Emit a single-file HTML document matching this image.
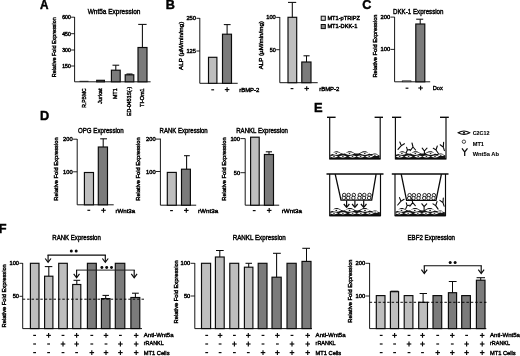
<!DOCTYPE html>
<html><head><meta charset="utf-8"><title>Figure</title>
<style>
html,body{margin:0;padding:0;background:#fff;}
body{width:520px;height:356px;overflow:hidden;font-family:"Liberation Sans",sans-serif;}
svg{display:block;filter:blur(0.3px);}
svg text{font-family:"Liberation Sans",sans-serif;}
</style></head><body>
<svg width="520" height="356" viewBox="0 0 520 356">
<rect width="520" height="356" fill="#fff"/>
<text x="40.0" y="8.7" font-size="12.1" text-anchor="start" font-weight="bold" fill="#000" stroke="#000" stroke-width="0.42" textLength="8.5" lengthAdjust="spacingAndGlyphs">A</text>
<text x="165.7" y="8.7" font-size="12.1" text-anchor="start" font-weight="bold" fill="#000" stroke="#000" stroke-width="0.42" textLength="9.1" lengthAdjust="spacingAndGlyphs">B</text>
<text x="362.3" y="9.0" font-size="12.1" text-anchor="start" font-weight="bold" fill="#000" stroke="#000" stroke-width="0.42" textLength="9.1" lengthAdjust="spacingAndGlyphs">C</text>
<text x="40.1" y="119.7" font-size="12.1" text-anchor="start" font-weight="bold" fill="#000" stroke="#000" stroke-width="0.42" textLength="9.2" lengthAdjust="spacingAndGlyphs">D</text>
<text x="313.9" y="111.9" font-size="12.1" text-anchor="start" font-weight="bold" fill="#000" stroke="#000" stroke-width="0.42" textLength="8.6" lengthAdjust="spacingAndGlyphs">E</text>
<text x="-1.3" y="233.0" font-size="12.1" text-anchor="start" font-weight="bold" fill="#000" stroke="#000" stroke-width="0.42" textLength="7.8" lengthAdjust="spacingAndGlyphs">F</text>
<text x="87.7" y="14.0" font-size="7.2" text-anchor="start" font-weight="normal" fill="#000" stroke="#000" stroke-width="0.42" textLength="52.7" lengthAdjust="spacingAndGlyphs">Wnt5a Expression</text>
<path d="M74.6,17.0 V81.8 H150.6" fill="none" stroke="#0a0a0a" stroke-width="0.95"/>
<line x1="71.1" y1="17.2" x2="74.6" y2="17.2" stroke="#0a0a0a" stroke-width="0.9"/>
<text x="70.7" y="19.0" font-size="4.94" text-anchor="end" font-weight="normal" fill="#000" stroke="#000" stroke-width="0.42" textLength="8.4" lengthAdjust="spacingAndGlyphs">600</text>
<line x1="71.1" y1="33.7" x2="74.6" y2="33.7" stroke="#0a0a0a" stroke-width="0.9"/>
<text x="70.7" y="35.5" font-size="4.94" text-anchor="end" font-weight="normal" fill="#000" stroke="#000" stroke-width="0.42" textLength="8.4" lengthAdjust="spacingAndGlyphs">450</text>
<line x1="71.1" y1="50.0" x2="74.6" y2="50.0" stroke="#0a0a0a" stroke-width="0.9"/>
<text x="70.7" y="51.8" font-size="4.94" text-anchor="end" font-weight="normal" fill="#000" stroke="#000" stroke-width="0.42" textLength="8.4" lengthAdjust="spacingAndGlyphs">300</text>
<line x1="71.1" y1="66.0" x2="74.6" y2="66.0" stroke="#0a0a0a" stroke-width="0.9"/>
<text x="70.7" y="67.8" font-size="4.94" text-anchor="end" font-weight="normal" fill="#000" stroke="#000" stroke-width="0.42" textLength="8.4" lengthAdjust="spacingAndGlyphs">150</text>
<text transform="translate(56.2,77.2) rotate(-90)" font-size="5.8" font-weight="normal" fill="#000" stroke="#000" stroke-width="0.42" textLength="60.0" lengthAdjust="spacingAndGlyphs">Relative Fold Expression</text>
<line x1="79.5" y1="81.3" x2="88.5" y2="81.3" stroke="#0a0a0a" stroke-width="0.8"/>
<rect x="96.7" y="80.3" width="7.7" height="1.5" fill="#7b7b7b" stroke="#0a0a0a" stroke-width="1.15"/>
<rect x="111.4" y="70.2" width="8.8" height="11.6" fill="#7b7b7b" stroke="#0a0a0a" stroke-width="1.15"/>
<line x1="115.8" y1="70.2" x2="115.8" y2="65.2" stroke="#0a0a0a" stroke-width="1.05"/>
<line x1="112.5" y1="65.2" x2="119.2" y2="65.2" stroke="#0a0a0a" stroke-width="1.05"/>
<rect x="125.2" y="74.8" width="8.6" height="7.0" fill="#7b7b7b" stroke="#0a0a0a" stroke-width="1.15"/>
<line x1="129.5" y1="74.8" x2="129.5" y2="74.0" stroke="#0a0a0a" stroke-width="1.05"/>
<line x1="126.5" y1="74.0" x2="132.5" y2="74.0" stroke="#0a0a0a" stroke-width="1.05"/>
<rect x="138.0" y="47.5" width="9.0" height="34.3" fill="#7b7b7b" stroke="#0a0a0a" stroke-width="1.15"/>
<line x1="142.4" y1="47.5" x2="142.4" y2="24.4" stroke="#0a0a0a" stroke-width="1.05"/>
<line x1="138.2" y1="24.4" x2="146.6" y2="24.4" stroke="#0a0a0a" stroke-width="1.05"/>
<text transform="translate(86.0,88.4) rotate(-90)" font-size="5.7" text-anchor="end" fill="#000" stroke="#000" stroke-width="0.42" textLength="19.3" lengthAdjust="spacingAndGlyphs">R.PBMC</text>
<text transform="translate(102.3,88.4) rotate(-90)" font-size="5.7" text-anchor="end" fill="#000" stroke="#000" stroke-width="0.42" textLength="15.6" lengthAdjust="spacingAndGlyphs">Jurkat</text>
<text transform="translate(116.7,88.4) rotate(-90)" font-size="5.7" text-anchor="end" fill="#000" stroke="#000" stroke-width="0.42" textLength="10.5" lengthAdjust="spacingAndGlyphs">MT1</text>
<text transform="translate(131.0,86.8) rotate(-90)" font-size="5.7" text-anchor="end" fill="#000" stroke="#000" stroke-width="0.42" textLength="29.2" lengthAdjust="spacingAndGlyphs">ED-0451S(-)</text>
<text transform="translate(144.0,88.4) rotate(-90)" font-size="5.7" text-anchor="end" fill="#000" stroke="#000" stroke-width="0.42" textLength="18.5" lengthAdjust="spacingAndGlyphs">TI-Om1</text>
<path d="M199.8,18.0 V83.3 H237.7" fill="none" stroke="#0a0a0a" stroke-width="0.95"/>
<line x1="196.4" y1="18.3" x2="199.8" y2="18.3" stroke="#0a0a0a" stroke-width="0.9"/>
<text x="196.0" y="20.3" font-size="5.64" text-anchor="end" font-weight="normal" fill="#000" stroke="#000" stroke-width="0.42" textLength="9.6" lengthAdjust="spacingAndGlyphs">250</text>
<line x1="196.4" y1="51.0" x2="199.8" y2="51.0" stroke="#0a0a0a" stroke-width="0.9"/>
<text x="196.0" y="53.0" font-size="5.64" text-anchor="end" font-weight="normal" fill="#000" stroke="#000" stroke-width="0.42" textLength="9.6" lengthAdjust="spacingAndGlyphs">125</text>
<text transform="translate(182.6,69.9) rotate(-90)" font-size="6.2" font-weight="normal" fill="#000" stroke="#000" stroke-width="0.42" textLength="48.2" lengthAdjust="spacingAndGlyphs">ALP (µM/min/mg)</text>
<rect x="208.5" y="57.3" width="8.4" height="26.0" fill="#bebebe" stroke="#0a0a0a" stroke-width="1.15"/>
<rect x="222.5" y="34.2" width="9.0" height="49.1" fill="#7b7b7b" stroke="#0a0a0a" stroke-width="1.15"/>
<line x1="227.1" y1="34.2" x2="227.1" y2="24.6" stroke="#0a0a0a" stroke-width="1.05"/>
<line x1="223.8" y1="24.6" x2="230.6" y2="24.6" stroke="#0a0a0a" stroke-width="1.05"/>
<line x1="211.3" y1="89.8" x2="214.1" y2="89.8" stroke="#0a0a0a" stroke-width="1.2"/>
<line x1="224.8" y1="89.6" x2="229.4" y2="89.6" stroke="#0a0a0a" stroke-width="1.15"/>
<line x1="227.1" y1="87.2" x2="227.1" y2="91.9" stroke="#0a0a0a" stroke-width="1.15"/>
<text x="239.2" y="92.0" font-size="6.0" text-anchor="start" font-weight="normal" fill="#000" stroke="#000" stroke-width="0.42" textLength="20.2" lengthAdjust="spacingAndGlyphs">rBMP-2</text>
<path d="M279.8,17.0 V82.7 H317.7" fill="none" stroke="#0a0a0a" stroke-width="0.95"/>
<line x1="276.2" y1="17.4" x2="279.8" y2="17.4" stroke="#0a0a0a" stroke-width="0.9"/>
<text x="275.8" y="19.4" font-size="5.64" text-anchor="end" font-weight="normal" fill="#000" stroke="#000" stroke-width="0.42" textLength="9.6" lengthAdjust="spacingAndGlyphs">100</text>
<line x1="276.2" y1="49.7" x2="279.8" y2="49.7" stroke="#0a0a0a" stroke-width="0.9"/>
<text x="275.8" y="51.6" font-size="5.29" text-anchor="end" font-weight="normal" fill="#000" stroke="#000" stroke-width="0.42" textLength="6.0" lengthAdjust="spacingAndGlyphs">50</text>
<text transform="translate(262.6,69.3) rotate(-90)" font-size="6.2" font-weight="normal" fill="#000" stroke="#000" stroke-width="0.42" textLength="48.2" lengthAdjust="spacingAndGlyphs">ALP (µM/min/mg)</text>
<rect x="288.0" y="17.3" width="8.7" height="65.4" fill="#bebebe" stroke="#0a0a0a" stroke-width="1.15"/>
<line x1="292.3" y1="17.3" x2="292.3" y2="2.4" stroke="#0a0a0a" stroke-width="1.05"/>
<line x1="288.0" y1="2.4" x2="296.2" y2="2.4" stroke="#0a0a0a" stroke-width="1.05"/>
<rect x="301.8" y="62.0" width="9.2" height="20.7" fill="#7b7b7b" stroke="#0a0a0a" stroke-width="1.15"/>
<line x1="306.5" y1="62.0" x2="306.5" y2="55.8" stroke="#0a0a0a" stroke-width="1.05"/>
<line x1="303.5" y1="55.8" x2="309.6" y2="55.8" stroke="#0a0a0a" stroke-width="1.05"/>
<line x1="290.6" y1="88.6" x2="293.4" y2="88.6" stroke="#0a0a0a" stroke-width="1.2"/>
<line x1="304.4" y1="88.5" x2="309.0" y2="88.5" stroke="#0a0a0a" stroke-width="1.15"/>
<line x1="306.7" y1="86.2" x2="306.7" y2="90.8" stroke="#0a0a0a" stroke-width="1.15"/>
<text x="319.2" y="90.8" font-size="6.0" text-anchor="start" font-weight="normal" fill="#000" stroke="#000" stroke-width="0.42" textLength="20.2" lengthAdjust="spacingAndGlyphs">rBMP-2</text>
<rect x="321.2" y="16.2" width="4.1" height="4.1" fill="#d8d8d8" stroke="#0a0a0a" stroke-width="1.0"/>
<rect x="321.2" y="24.5" width="4.1" height="4.1" fill="#8a8a8a" stroke="#0a0a0a" stroke-width="1.0"/>
<text x="327.4" y="20.4" font-size="5.7" text-anchor="start" font-weight="normal" fill="#000" stroke="#000" stroke-width="0.42" textLength="32.6" lengthAdjust="spacingAndGlyphs">MT1-pTRIPZ</text>
<text x="327.4" y="28.3" font-size="5.7" text-anchor="start" font-weight="normal" fill="#000" stroke="#000" stroke-width="0.42" textLength="29.9" lengthAdjust="spacingAndGlyphs">MT1-DKK-1</text>
<text x="393.0" y="14.2" font-size="7.2" text-anchor="start" font-weight="normal" fill="#000" stroke="#000" stroke-width="0.42" textLength="50.5" lengthAdjust="spacingAndGlyphs">DKK-1 Expression</text>
<path d="M394.6,17.0 V81.8 H430.2" fill="none" stroke="#0a0a0a" stroke-width="0.95"/>
<line x1="390.5" y1="17.1" x2="394.7" y2="17.1" stroke="#0a0a0a" stroke-width="0.9"/>
<text x="390.1" y="19.1" font-size="5.64" text-anchor="end" font-weight="normal" fill="#000" stroke="#000" stroke-width="0.42" textLength="9.6" lengthAdjust="spacingAndGlyphs">200</text>
<line x1="390.5" y1="49.4" x2="394.7" y2="49.4" stroke="#0a0a0a" stroke-width="0.9"/>
<text x="390.1" y="51.4" font-size="5.64" text-anchor="end" font-weight="normal" fill="#000" stroke="#000" stroke-width="0.42" textLength="9.6" lengthAdjust="spacingAndGlyphs">100</text>
<text transform="translate(376.8,77.6) rotate(-90)" font-size="5.8" font-weight="normal" fill="#000" stroke="#000" stroke-width="0.42" textLength="63.1" lengthAdjust="spacingAndGlyphs">Relative Fold Expression</text>
<rect x="402.2" y="80.8" width="8.8" height="1.0" fill="#bebebe" stroke="#0a0a0a" stroke-width="0.6"/>
<rect x="415.8" y="24.0" width="9.0" height="57.8" fill="#7b7b7b" stroke="#0a0a0a" stroke-width="1.15"/>
<line x1="420.2" y1="24.0" x2="420.2" y2="19.2" stroke="#0a0a0a" stroke-width="1.05"/>
<line x1="416.2" y1="19.2" x2="423.2" y2="19.2" stroke="#0a0a0a" stroke-width="1.05"/>
<line x1="405.6" y1="88.2" x2="408.4" y2="88.2" stroke="#0a0a0a" stroke-width="1.2"/>
<line x1="418.3" y1="88.0" x2="422.9" y2="88.0" stroke="#0a0a0a" stroke-width="1.15"/>
<line x1="420.6" y1="85.7" x2="420.6" y2="90.3" stroke="#0a0a0a" stroke-width="1.15"/>
<text x="432.7" y="90.3" font-size="6.0" text-anchor="start" font-weight="normal" fill="#000" stroke="#000" stroke-width="0.42" textLength="10.0" lengthAdjust="spacingAndGlyphs">Dox</text>
<text x="78.0" y="132.6" font-size="7.2" text-anchor="start" font-weight="normal" fill="#000" stroke="#000" stroke-width="0.42" textLength="45.7" lengthAdjust="spacingAndGlyphs">OPG Expression</text>
<path d="M77.2,139.0 V204.8 H113.7" fill="none" stroke="#0a0a0a" stroke-width="0.95"/>
<line x1="73.1" y1="139.2" x2="77.2" y2="139.2" stroke="#0a0a0a" stroke-width="0.9"/>
<text x="72.7" y="141.2" font-size="5.64" text-anchor="end" font-weight="normal" fill="#000" stroke="#000" stroke-width="0.42" textLength="9.6" lengthAdjust="spacingAndGlyphs">200</text>
<line x1="73.1" y1="171.8" x2="77.2" y2="171.8" stroke="#0a0a0a" stroke-width="0.9"/>
<text x="72.7" y="173.8" font-size="5.64" text-anchor="end" font-weight="normal" fill="#000" stroke="#000" stroke-width="0.42" textLength="9.6" lengthAdjust="spacingAndGlyphs">100</text>
<text transform="translate(57.9,200.7) rotate(-90)" font-size="5.8" font-weight="normal" fill="#000" stroke="#000" stroke-width="0.42" textLength="63.3" lengthAdjust="spacingAndGlyphs">Relative Fold Expression</text>
<rect x="84.4" y="172.5" width="9.1" height="32.3" fill="#bebebe" stroke="#0a0a0a" stroke-width="1.15"/>
<rect x="98.3" y="147.0" width="9.2" height="57.8" fill="#7b7b7b" stroke="#0a0a0a" stroke-width="1.15"/>
<line x1="103.2" y1="147.0" x2="103.2" y2="138.8" stroke="#0a0a0a" stroke-width="1.05"/>
<line x1="100.2" y1="138.8" x2="107.0" y2="138.8" stroke="#0a0a0a" stroke-width="1.05"/>
<line x1="87.4" y1="210.3" x2="90.2" y2="210.3" stroke="#0a0a0a" stroke-width="1.2"/>
<line x1="101.2" y1="210.3" x2="105.8" y2="210.3" stroke="#0a0a0a" stroke-width="1.15"/>
<line x1="103.5" y1="208.0" x2="103.5" y2="212.7" stroke="#0a0a0a" stroke-width="1.15"/>
<text x="115.5" y="212.6" font-size="6.0" text-anchor="start" font-weight="normal" fill="#000" stroke="#000" stroke-width="0.42" textLength="19.6" lengthAdjust="spacingAndGlyphs">rWnt3a</text>
<text x="159.6" y="132.6" font-size="7.2" text-anchor="start" font-weight="normal" fill="#000" stroke="#000" stroke-width="0.42" textLength="48.1" lengthAdjust="spacingAndGlyphs">RANK Expression</text>
<path d="M160.4,138.6 V205.2 H196.2" fill="none" stroke="#0a0a0a" stroke-width="0.95"/>
<line x1="156.0" y1="139.1" x2="160.3" y2="139.1" stroke="#0a0a0a" stroke-width="0.9"/>
<text x="155.6" y="141.1" font-size="5.64" text-anchor="end" font-weight="normal" fill="#000" stroke="#000" stroke-width="0.42" textLength="9.6" lengthAdjust="spacingAndGlyphs">200</text>
<line x1="156.0" y1="171.5" x2="160.3" y2="171.5" stroke="#0a0a0a" stroke-width="0.9"/>
<text x="155.6" y="173.5" font-size="5.64" text-anchor="end" font-weight="normal" fill="#000" stroke="#000" stroke-width="0.42" textLength="9.6" lengthAdjust="spacingAndGlyphs">100</text>
<text transform="translate(140.3,200.7) rotate(-90)" font-size="5.8" font-weight="normal" fill="#000" stroke="#000" stroke-width="0.42" textLength="63.3" lengthAdjust="spacingAndGlyphs">Relative Fold Expression</text>
<rect x="167.3" y="172.4" width="9.0" height="32.8" fill="#bebebe" stroke="#0a0a0a" stroke-width="1.15"/>
<rect x="181.5" y="169.2" width="8.9" height="36.0" fill="#7b7b7b" stroke="#0a0a0a" stroke-width="1.15"/>
<line x1="186.6" y1="169.2" x2="186.6" y2="155.7" stroke="#0a0a0a" stroke-width="1.05"/>
<line x1="184.0" y1="155.7" x2="189.8" y2="155.7" stroke="#0a0a0a" stroke-width="1.05"/>
<line x1="170.1" y1="210.6" x2="172.9" y2="210.6" stroke="#0a0a0a" stroke-width="1.2"/>
<line x1="184.0" y1="210.4" x2="188.6" y2="210.4" stroke="#0a0a0a" stroke-width="1.15"/>
<line x1="186.3" y1="208.1" x2="186.3" y2="212.8" stroke="#0a0a0a" stroke-width="1.15"/>
<text x="198.0" y="212.8" font-size="6.0" text-anchor="start" font-weight="normal" fill="#000" stroke="#000" stroke-width="0.42" textLength="20.2" lengthAdjust="spacingAndGlyphs">rWnt3a</text>
<text x="236.2" y="132.6" font-size="7.2" text-anchor="start" font-weight="normal" fill="#000" stroke="#000" stroke-width="0.42" textLength="51.8" lengthAdjust="spacingAndGlyphs">RANKL Expression</text>
<path d="M245.2,138.6 V205.2 H279.2" fill="none" stroke="#0a0a0a" stroke-width="0.95"/>
<line x1="240.4" y1="138.6" x2="245.2" y2="138.6" stroke="#0a0a0a" stroke-width="0.9"/>
<text x="240.0" y="140.6" font-size="5.64" text-anchor="end" font-weight="normal" fill="#000" stroke="#000" stroke-width="0.42" textLength="9.6" lengthAdjust="spacingAndGlyphs">100</text>
<line x1="240.4" y1="172.7" x2="245.2" y2="172.7" stroke="#0a0a0a" stroke-width="0.9"/>
<text x="240.0" y="174.7" font-size="5.46" text-anchor="end" font-weight="normal" fill="#000" stroke="#000" stroke-width="0.42" textLength="6.2" lengthAdjust="spacingAndGlyphs">50</text>
<text transform="translate(226.0,200.7) rotate(-90)" font-size="5.8" font-weight="normal" fill="#000" stroke="#000" stroke-width="0.42" textLength="63.3" lengthAdjust="spacingAndGlyphs">Relative Fold Expression</text>
<rect x="250.6" y="137.2" width="8.6" height="68.0" fill="#bebebe" stroke="#0a0a0a" stroke-width="1.15"/>
<rect x="264.4" y="154.5" width="9.1" height="50.7" fill="#7b7b7b" stroke="#0a0a0a" stroke-width="1.15"/>
<line x1="269.0" y1="154.5" x2="269.0" y2="151.8" stroke="#0a0a0a" stroke-width="1.05"/>
<line x1="265.8" y1="151.8" x2="272.0" y2="151.8" stroke="#0a0a0a" stroke-width="1.05"/>
<line x1="252.8" y1="210.6" x2="255.6" y2="210.6" stroke="#0a0a0a" stroke-width="1.2"/>
<line x1="266.9" y1="210.4" x2="271.5" y2="210.4" stroke="#0a0a0a" stroke-width="1.15"/>
<line x1="269.2" y1="208.1" x2="269.2" y2="212.8" stroke="#0a0a0a" stroke-width="1.15"/>
<text x="281.7" y="212.8" font-size="6.0" text-anchor="start" font-weight="normal" fill="#000" stroke="#000" stroke-width="0.42" textLength="20.2" lengthAdjust="spacingAndGlyphs">rWnt3a</text>
<path d="M330.3,158.6 L330.3,154.8 C333.3,154.8 333.3,151.3 336.2,151.3 C339.9,151.3 339.9,153.7 343.6,153.7 C346.6,153.7 346.6,151.3 349.5,151.3 C353.2,151.3 353.2,153.6 356.9,153.6 C360.9,153.6 360.9,151.3 364.8,151.3 C368.0,151.3 368.0,154.1 371.2,154.1 C373.2,154.1 373.2,153.6 375.2,153.6 C377.4,153.6 377.4,155.4 379.6,155.4 L379.6,158.6 Z" fill="#151515"/>
<path d="M331.3,153.6 Q336.2,151.0 341.1,153.6 Q336.2,156.2 331.3,153.6 Z" fill="#fff"/>
<ellipse cx="336.2" cy="153.6" rx="0.9" ry="0.55" fill="#151515"/>
<path d="M344.6,153.6 Q349.5,151.0 354.5,153.6 Q349.5,156.2 344.6,153.6 Z" fill="#fff"/>
<ellipse cx="349.5" cy="153.6" rx="0.9" ry="0.55" fill="#151515"/>
<path d="M359.9,153.6 Q364.8,151.0 369.7,153.6 Q364.8,156.2 359.9,153.6 Z" fill="#fff"/>
<ellipse cx="364.8" cy="153.6" rx="0.9" ry="0.55" fill="#151515"/>
<path d="M371.5,155.2 Q374.9,153.4 378.4,155.2 Q374.9,157.0 371.5,155.2 Z" fill="#fff"/>
<ellipse cx="374.9" cy="155.2" rx="0.9" ry="0.55" fill="#151515"/>
<path d="M329.9,156.5 Q334.0,154.3 338.1,156.5 Q334.0,158.7 329.9,156.5 Z" fill="#fff"/>
<ellipse cx="334.0" cy="156.5" rx="0.9" ry="0.55" fill="#151515"/>
<path d="M338.8,156.5 Q342.9,154.3 346.9,156.5 Q342.9,158.7 338.8,156.5 Z" fill="#fff"/>
<ellipse cx="342.9" cy="156.5" rx="0.9" ry="0.55" fill="#151515"/>
<path d="M348.4,156.5 Q352.5,154.3 356.6,156.5 Q352.5,158.7 348.4,156.5 Z" fill="#fff"/>
<ellipse cx="352.5" cy="156.5" rx="0.9" ry="0.55" fill="#151515"/>
<path d="M356.6,156.5 Q360.6,154.3 364.7,156.5 Q360.6,158.7 356.6,156.5 Z" fill="#fff"/>
<ellipse cx="360.6" cy="156.5" rx="0.9" ry="0.55" fill="#151515"/>
<path d="M365.2,156.5 Q369.2,154.3 373.3,156.5 Q369.2,158.7 365.2,156.5 Z" fill="#fff"/>
<ellipse cx="369.2" cy="156.5" rx="0.9" ry="0.55" fill="#151515"/>
<path d="M329.7,117.3 V158.8 H380.2 V117.3" fill="none" stroke="#0a0a0a" stroke-width="1.15"/>
<line x1="329.7" y1="158.7" x2="380.2" y2="158.7" stroke="#0a0a0a" stroke-width="1.3"/>
<line x1="327.0" y1="117.3" x2="335.6" y2="117.3" stroke="#0a0a0a" stroke-width="1.4"/>
<line x1="374.6" y1="117.3" x2="383.0" y2="117.3" stroke="#0a0a0a" stroke-width="1.4"/>
<path d="M396.0,158.6 L396.0,154.8 C399.0,154.8 399.0,151.3 401.9,151.3 C405.6,151.3 405.6,153.7 409.3,153.7 C412.3,153.7 412.3,151.3 415.3,151.3 C419.0,151.3 419.0,153.6 422.7,153.6 C426.6,153.6 426.6,151.3 430.6,151.3 C433.8,151.3 433.8,154.1 437.0,154.1 C439.0,154.1 439.0,153.6 441.0,153.6 C443.2,153.6 443.2,155.4 445.4,155.4 L445.4,158.6 Z" fill="#151515"/>
<path d="M397.0,153.6 Q401.9,151.0 406.9,153.6 Q401.9,156.2 397.0,153.6 Z" fill="#fff"/>
<ellipse cx="401.9" cy="153.6" rx="0.9" ry="0.55" fill="#151515"/>
<path d="M410.3,153.6 Q415.3,151.0 420.2,153.6 Q415.3,156.2 410.3,153.6 Z" fill="#fff"/>
<ellipse cx="415.3" cy="153.6" rx="0.9" ry="0.55" fill="#151515"/>
<path d="M425.6,153.6 Q430.6,151.0 435.5,153.6 Q430.6,156.2 425.6,153.6 Z" fill="#fff"/>
<ellipse cx="430.6" cy="153.6" rx="0.9" ry="0.55" fill="#151515"/>
<path d="M437.2,155.2 Q440.7,153.4 444.2,155.2 Q440.7,157.0 437.2,155.2 Z" fill="#fff"/>
<ellipse cx="440.7" cy="155.2" rx="0.9" ry="0.55" fill="#151515"/>
<path d="M395.6,156.5 Q399.7,154.3 403.8,156.5 Q399.7,158.7 395.6,156.5 Z" fill="#fff"/>
<ellipse cx="399.7" cy="156.5" rx="0.9" ry="0.55" fill="#151515"/>
<path d="M404.5,156.5 Q408.6,154.3 412.7,156.5 Q408.6,158.7 404.5,156.5 Z" fill="#fff"/>
<ellipse cx="408.6" cy="156.5" rx="0.9" ry="0.55" fill="#151515"/>
<path d="M414.2,156.5 Q418.2,154.3 422.3,156.5 Q418.2,158.7 414.2,156.5 Z" fill="#fff"/>
<ellipse cx="418.2" cy="156.5" rx="0.9" ry="0.55" fill="#151515"/>
<path d="M422.3,156.5 Q426.4,154.3 430.5,156.5 Q426.4,158.7 422.3,156.5 Z" fill="#fff"/>
<ellipse cx="426.4" cy="156.5" rx="0.9" ry="0.55" fill="#151515"/>
<path d="M431.0,156.5 Q435.0,154.3 439.1,156.5 Q435.0,158.7 431.0,156.5 Z" fill="#fff"/>
<ellipse cx="435.0" cy="156.5" rx="0.9" ry="0.55" fill="#151515"/>
<path d="M395.4,117.3 V158.8 H446.0 V117.3" fill="none" stroke="#0a0a0a" stroke-width="1.15"/>
<line x1="395.4" y1="158.7" x2="446.0" y2="158.7" stroke="#0a0a0a" stroke-width="1.3"/>
<line x1="392.0" y1="117.3" x2="401.2" y2="117.3" stroke="#0a0a0a" stroke-width="1.4"/>
<line x1="440.0" y1="117.3" x2="448.8" y2="117.3" stroke="#0a0a0a" stroke-width="1.4"/>
<path d="M398.0,149.4 L401.3,145.6 M399.8,142.0 L401.3,145.6 L404.4,143.7" fill="none" stroke="#0a0a0a" stroke-width="1.1" stroke-linecap="round"/>
<path d="M406.0,153.3 L407.4,150.0 M406.6,147.3 L407.4,150.0 L410.0,149.6" fill="none" stroke="#0a0a0a" stroke-width="1.1" stroke-linecap="round"/>
<path d="M412.0,143.0 L413.0,147.0 M410.2,150.6 L413.0,147.0 L415.6,150.0" fill="none" stroke="#0a0a0a" stroke-width="1.1" stroke-linecap="round"/>
<path d="M424.4,154.2 L424.4,151.0 M422.2,148.2 L424.4,151.0 L427.0,148.2" fill="none" stroke="#0a0a0a" stroke-width="1.1" stroke-linecap="round"/>
<path d="M438.4,153.5 L436.0,150.0 M433.3,148.3 L436.0,150.0 L437.3,146.0" fill="none" stroke="#0a0a0a" stroke-width="1.1" stroke-linecap="round"/>
<path d="M444.4,150.6 L443.3,147.1 M440.2,144.8 L443.3,147.1 L443.6,142.4" fill="none" stroke="#0a0a0a" stroke-width="1.1" stroke-linecap="round"/>
<path d="M330.3,215.4 L330.3,211.6 C333.3,211.6 333.3,208.1 336.3,208.1 C340.0,208.1 340.0,210.5 343.7,210.5 C346.7,210.5 346.7,208.1 349.6,208.1 C353.4,208.1 353.4,210.4 357.1,210.4 C361.1,210.4 361.1,208.1 365.0,208.1 C368.2,208.1 368.2,210.9 371.5,210.9 C373.5,210.9 373.5,210.4 375.4,210.4 C377.7,210.4 377.7,212.2 379.9,212.2 L379.9,215.4 Z" fill="#151515"/>
<path d="M331.3,210.4 Q336.3,207.8 341.2,210.4 Q336.3,213.0 331.3,210.4 Z" fill="#fff"/>
<ellipse cx="336.3" cy="210.4" rx="0.9" ry="0.55" fill="#151515"/>
<path d="M344.7,210.4 Q349.6,207.8 354.6,210.4 Q349.6,213.0 344.7,210.4 Z" fill="#fff"/>
<ellipse cx="349.6" cy="210.4" rx="0.9" ry="0.55" fill="#151515"/>
<path d="M360.1,210.4 Q365.0,207.8 370.0,210.4 Q365.0,213.0 360.1,210.4 Z" fill="#fff"/>
<ellipse cx="365.0" cy="210.4" rx="0.9" ry="0.55" fill="#151515"/>
<path d="M371.7,212.0 Q375.2,210.2 378.7,212.0 Q375.2,213.8 371.7,212.0 Z" fill="#fff"/>
<ellipse cx="375.2" cy="212.0" rx="0.9" ry="0.55" fill="#151515"/>
<path d="M329.9,213.3 Q334.0,211.1 338.1,213.3 Q334.0,215.5 329.9,213.3 Z" fill="#fff"/>
<ellipse cx="334.0" cy="213.3" rx="0.9" ry="0.55" fill="#151515"/>
<path d="M338.9,213.3 Q342.9,211.1 347.0,213.3 Q342.9,215.5 338.9,213.3 Z" fill="#fff"/>
<ellipse cx="342.9" cy="213.3" rx="0.9" ry="0.55" fill="#151515"/>
<path d="M348.5,213.3 Q352.6,211.1 356.7,213.3 Q352.6,215.5 348.5,213.3 Z" fill="#fff"/>
<ellipse cx="352.6" cy="213.3" rx="0.9" ry="0.55" fill="#151515"/>
<path d="M356.7,213.3 Q360.8,211.1 364.9,213.3 Q360.8,215.5 356.7,213.3 Z" fill="#fff"/>
<ellipse cx="360.8" cy="213.3" rx="0.9" ry="0.55" fill="#151515"/>
<path d="M365.4,213.3 Q369.5,211.1 373.6,213.3 Q369.5,215.5 365.4,213.3 Z" fill="#fff"/>
<ellipse cx="369.5" cy="213.3" rx="0.9" ry="0.55" fill="#151515"/>
<path d="M329.7,174.1 V215.6 H380.5 V174.1" fill="none" stroke="#0a0a0a" stroke-width="1.15"/>
<line x1="329.7" y1="215.5" x2="380.5" y2="215.5" stroke="#0a0a0a" stroke-width="1.3"/>
<line x1="326.5" y1="174.1" x2="383.5" y2="174.1" stroke="#0a0a0a" stroke-width="1.5"/>
<path d="M335.2,174.1 L341.0,200.1 H371.7 L376.1,174.1" fill="none" stroke="#0a0a0a" stroke-width="1.3"/>
<circle cx="344.2" cy="195.0" r="1.75" fill="#fff" stroke="#0a0a0a" stroke-width="0.85"/>
<circle cx="348.6" cy="195.0" r="1.75" fill="#fff" stroke="#0a0a0a" stroke-width="0.85"/>
<circle cx="353.8" cy="195.0" r="1.75" fill="#fff" stroke="#0a0a0a" stroke-width="0.85"/>
<circle cx="359.8" cy="195.0" r="1.75" fill="#fff" stroke="#0a0a0a" stroke-width="0.85"/>
<circle cx="364.3" cy="195.0" r="1.75" fill="#fff" stroke="#0a0a0a" stroke-width="0.85"/>
<circle cx="369.5" cy="195.0" r="1.75" fill="#fff" stroke="#0a0a0a" stroke-width="0.85"/>
<circle cx="343.8" cy="197.9" r="1.75" fill="#fff" stroke="#0a0a0a" stroke-width="0.85"/>
<circle cx="348.2" cy="197.9" r="1.75" fill="#fff" stroke="#0a0a0a" stroke-width="0.85"/>
<circle cx="353.4" cy="197.9" r="1.75" fill="#fff" stroke="#0a0a0a" stroke-width="0.85"/>
<circle cx="359.4" cy="197.9" r="1.75" fill="#fff" stroke="#0a0a0a" stroke-width="0.85"/>
<circle cx="363.9" cy="197.9" r="1.75" fill="#fff" stroke="#0a0a0a" stroke-width="0.85"/>
<circle cx="369.1" cy="197.9" r="1.75" fill="#fff" stroke="#0a0a0a" stroke-width="0.85"/>
<line x1="346.6" y1="200.4" x2="346.6" y2="206.9" stroke="#0a0a0a" stroke-width="1.2"/>
<path d="M343.8,204.0 L346.6,207.4 L349.4,204.0" fill="none" stroke="#0a0a0a" stroke-width="1.2"/>
<line x1="354.9" y1="200.4" x2="354.9" y2="206.9" stroke="#0a0a0a" stroke-width="1.2"/>
<path d="M352.1,204.0 L354.9,207.4 L357.7,204.0" fill="none" stroke="#0a0a0a" stroke-width="1.2"/>
<line x1="363.7" y1="200.4" x2="363.7" y2="206.9" stroke="#0a0a0a" stroke-width="1.2"/>
<path d="M360.9,204.0 L363.7,207.4 L366.5,204.0" fill="none" stroke="#0a0a0a" stroke-width="1.2"/>
<path d="M395.6,215.4 L395.6,211.6 C398.6,211.6 398.6,208.1 401.5,208.1 C405.2,208.1 405.2,210.5 408.9,210.5 C411.9,210.5 411.9,208.1 414.8,208.1 C418.5,208.1 418.5,210.4 422.2,210.4 C426.2,210.4 426.2,208.1 430.1,208.1 C433.3,208.1 433.3,210.9 436.5,210.9 C438.5,210.9 438.5,210.4 440.5,210.4 C442.7,210.4 442.7,212.2 444.9,212.2 L444.9,215.4 Z" fill="#151515"/>
<path d="M396.6,210.4 Q401.5,207.8 406.4,210.4 Q401.5,213.0 396.6,210.4 Z" fill="#fff"/>
<ellipse cx="401.5" cy="210.4" rx="0.9" ry="0.55" fill="#151515"/>
<path d="M409.9,210.4 Q414.8,207.8 419.8,210.4 Q414.8,213.0 409.9,210.4 Z" fill="#fff"/>
<ellipse cx="414.8" cy="210.4" rx="0.9" ry="0.55" fill="#151515"/>
<path d="M425.2,210.4 Q430.1,207.8 435.0,210.4 Q430.1,213.0 425.2,210.4 Z" fill="#fff"/>
<ellipse cx="430.1" cy="210.4" rx="0.9" ry="0.55" fill="#151515"/>
<path d="M436.8,212.0 Q440.2,210.2 443.7,212.0 Q440.2,213.8 436.8,212.0 Z" fill="#fff"/>
<ellipse cx="440.2" cy="212.0" rx="0.9" ry="0.55" fill="#151515"/>
<path d="M395.2,213.3 Q399.3,211.1 403.4,213.3 Q399.3,215.5 395.2,213.3 Z" fill="#fff"/>
<ellipse cx="399.3" cy="213.3" rx="0.9" ry="0.55" fill="#151515"/>
<path d="M404.1,213.3 Q408.2,211.1 412.2,213.3 Q408.2,215.5 404.1,213.3 Z" fill="#fff"/>
<ellipse cx="408.2" cy="213.3" rx="0.9" ry="0.55" fill="#151515"/>
<path d="M413.7,213.3 Q417.8,211.1 421.9,213.3 Q417.8,215.5 413.7,213.3 Z" fill="#fff"/>
<ellipse cx="417.8" cy="213.3" rx="0.9" ry="0.55" fill="#151515"/>
<path d="M421.9,213.3 Q425.9,211.1 430.0,213.3 Q425.9,215.5 421.9,213.3 Z" fill="#fff"/>
<ellipse cx="425.9" cy="213.3" rx="0.9" ry="0.55" fill="#151515"/>
<path d="M430.5,213.3 Q434.5,211.1 438.6,213.3 Q434.5,215.5 430.5,213.3 Z" fill="#fff"/>
<ellipse cx="434.5" cy="213.3" rx="0.9" ry="0.55" fill="#151515"/>
<path d="M395.0,174.1 V215.6 H445.5 V174.1" fill="none" stroke="#0a0a0a" stroke-width="1.15"/>
<line x1="395.0" y1="215.5" x2="445.5" y2="215.5" stroke="#0a0a0a" stroke-width="1.3"/>
<line x1="391.8" y1="174.1" x2="448.5" y2="174.1" stroke="#0a0a0a" stroke-width="1.5"/>
<path d="M401.2,174.1 L406.6,200.3 H436.0 L441.4,174.1" fill="none" stroke="#0a0a0a" stroke-width="1.3"/>
<circle cx="409.6" cy="195.2" r="1.75" fill="#fff" stroke="#0a0a0a" stroke-width="0.85"/>
<circle cx="413.9" cy="195.2" r="1.75" fill="#fff" stroke="#0a0a0a" stroke-width="0.85"/>
<circle cx="418.9" cy="195.2" r="1.75" fill="#fff" stroke="#0a0a0a" stroke-width="0.85"/>
<circle cx="424.6" cy="195.2" r="1.75" fill="#fff" stroke="#0a0a0a" stroke-width="0.85"/>
<circle cx="428.9" cy="195.2" r="1.75" fill="#fff" stroke="#0a0a0a" stroke-width="0.85"/>
<circle cx="433.9" cy="195.2" r="1.75" fill="#fff" stroke="#0a0a0a" stroke-width="0.85"/>
<circle cx="409.2" cy="198.1" r="1.75" fill="#fff" stroke="#0a0a0a" stroke-width="0.85"/>
<circle cx="413.5" cy="198.1" r="1.75" fill="#fff" stroke="#0a0a0a" stroke-width="0.85"/>
<circle cx="418.5" cy="198.1" r="1.75" fill="#fff" stroke="#0a0a0a" stroke-width="0.85"/>
<circle cx="424.2" cy="198.1" r="1.75" fill="#fff" stroke="#0a0a0a" stroke-width="0.85"/>
<circle cx="428.5" cy="198.1" r="1.75" fill="#fff" stroke="#0a0a0a" stroke-width="0.85"/>
<circle cx="433.5" cy="198.1" r="1.75" fill="#fff" stroke="#0a0a0a" stroke-width="0.85"/>
<path d="M397.7,205.0 L401.0,201.2 M399.5,197.6 L401.0,201.2 L404.1,199.3" fill="none" stroke="#0a0a0a" stroke-width="1.1" stroke-linecap="round"/>
<path d="M405.7,208.9 L407.1,205.6 M406.3,202.9 L407.1,205.6 L409.7,205.2" fill="none" stroke="#0a0a0a" stroke-width="1.1" stroke-linecap="round"/>
<path d="M411.7,198.6 L412.7,202.6 M409.9,206.2 L412.7,202.6 L415.3,205.6" fill="none" stroke="#0a0a0a" stroke-width="1.1" stroke-linecap="round"/>
<path d="M424.1,209.8 L424.1,206.6 M421.9,203.8 L424.1,206.6 L426.7,203.8" fill="none" stroke="#0a0a0a" stroke-width="1.1" stroke-linecap="round"/>
<path d="M438.1,209.1 L435.7,205.6 M433.0,203.9 L435.7,205.6 L437.0,201.6" fill="none" stroke="#0a0a0a" stroke-width="1.1" stroke-linecap="round"/>
<path d="M444.1,206.2 L443.0,202.7 M439.9,200.4 L443.0,202.7 L443.3,198.0" fill="none" stroke="#0a0a0a" stroke-width="1.1" stroke-linecap="round"/>
<path d="M458.2,132.7 Q464,129.3 469.7,132.7 Q464,136.1 458.2,132.7 Z" fill="#fff" stroke="#0a0a0a" stroke-width="1.1"/><circle cx="464" cy="132.7" r="1.0" fill="#0a0a0a"/>
<circle cx="463.9" cy="141.7" r="1.7" fill="#fff" stroke="#333" stroke-width="0.9"/>
<path d="M462,148.3 L464.7,152 L467.5,148.3 M464.7,152 V156" fill="none" stroke="#0a0a0a" stroke-width="1.25"/>
<text x="472.7" y="135.2" font-size="6.2" text-anchor="start" font-weight="bold" fill="#000" stroke="#000" stroke-width="0.1" textLength="16.7" lengthAdjust="spacingAndGlyphs">C2C12</text>
<text x="472.7" y="145.5" font-size="6.2" text-anchor="start" font-weight="bold" fill="#000" stroke="#000" stroke-width="0.1" textLength="11.3" lengthAdjust="spacingAndGlyphs">MT1</text>
<text x="472.7" y="155.5" font-size="6.2" text-anchor="start" font-weight="bold" fill="#000" stroke="#000" stroke-width="0.1" textLength="26.3" lengthAdjust="spacingAndGlyphs">Wnt5a Ab</text>
<text x="52.3" y="239.8" font-size="7.2" text-anchor="start" font-weight="normal" fill="#000" stroke="#000" stroke-width="0.42" textLength="48.5" lengthAdjust="spacingAndGlyphs">RANK Expression</text>
<rect x="30.4" y="263.3" width="8.6" height="65.3" fill="#bebebe" stroke="#0a0a0a" stroke-width="1.15"/>
<rect x="44.6" y="276.2" width="8.3" height="52.4" fill="#bebebe" stroke="#0a0a0a" stroke-width="1.15"/>
<line x1="48.8" y1="276.2" x2="48.8" y2="266.6" stroke="#0a0a0a" stroke-width="1.05"/>
<line x1="44.8" y1="266.6" x2="52.3" y2="266.6" stroke="#0a0a0a" stroke-width="1.05"/>
<rect x="58.7" y="263.3" width="8.6" height="65.3" fill="#bebebe" stroke="#0a0a0a" stroke-width="1.15"/>
<rect x="72.7" y="284.5" width="8.1" height="44.1" fill="#bebebe" stroke="#0a0a0a" stroke-width="1.15"/>
<line x1="76.8" y1="284.5" x2="76.8" y2="280.3" stroke="#0a0a0a" stroke-width="1.05"/>
<line x1="73.5" y1="280.3" x2="80.2" y2="280.3" stroke="#0a0a0a" stroke-width="1.05"/>
<rect x="87.4" y="263.3" width="8.9" height="65.3" fill="#7b7b7b" stroke="#0a0a0a" stroke-width="1.15"/>
<rect x="101.4" y="298.6" width="8.6" height="30.0" fill="#7b7b7b" stroke="#0a0a0a" stroke-width="1.15"/>
<line x1="105.7" y1="298.6" x2="105.7" y2="295.4" stroke="#0a0a0a" stroke-width="1.05"/>
<line x1="102.5" y1="295.4" x2="109.0" y2="295.4" stroke="#0a0a0a" stroke-width="1.05"/>
<rect x="115.3" y="263.3" width="9.5" height="65.3" fill="#7b7b7b" stroke="#0a0a0a" stroke-width="1.15"/>
<rect x="130.9" y="297.5" width="8.9" height="31.1" fill="#7b7b7b" stroke="#0a0a0a" stroke-width="1.15"/>
<line x1="135.4" y1="297.5" x2="135.4" y2="293.2" stroke="#0a0a0a" stroke-width="1.05"/>
<line x1="132.0" y1="293.2" x2="138.8" y2="293.2" stroke="#0a0a0a" stroke-width="1.05"/>
<path d="M22.7,263.0 V328.6 H142.0" fill="none" stroke="#0a0a0a" stroke-width="0.95"/>
<line x1="19.4" y1="263.3" x2="22.7" y2="263.3" stroke="#0a0a0a" stroke-width="0.9"/>
<text x="19.0" y="265.3" font-size="5.52" text-anchor="end" font-weight="normal" fill="#000" stroke="#000" stroke-width="0.42" textLength="9.4" lengthAdjust="spacingAndGlyphs">100</text>
<line x1="19.4" y1="296.3" x2="22.7" y2="296.3" stroke="#0a0a0a" stroke-width="0.9"/>
<text x="19.0" y="298.3" font-size="5.55" text-anchor="end" font-weight="normal" fill="#000" stroke="#000" stroke-width="0.42" textLength="6.3" lengthAdjust="spacingAndGlyphs">50</text>
<text transform="translate(5.8,327.4) rotate(-90)" font-size="5.8" font-weight="normal" fill="#000" stroke="#000" stroke-width="0.42" textLength="63.2" lengthAdjust="spacingAndGlyphs">Relative Fold Expression</text>
<line x1="22.7" y1="299.2" x2="144.0" y2="299.2" stroke="#000" stroke-width="0.95" stroke-dasharray="2.5 1.9"/>
<line x1="33.2" y1="335.4" x2="36.0" y2="335.4" stroke="#0a0a0a" stroke-width="1.2"/>
<line x1="46.3" y1="335.4" x2="50.9" y2="335.4" stroke="#0a0a0a" stroke-width="1.15"/>
<line x1="48.6" y1="333.0" x2="48.6" y2="337.8" stroke="#0a0a0a" stroke-width="1.15"/>
<line x1="61.6" y1="335.4" x2="64.4" y2="335.4" stroke="#0a0a0a" stroke-width="1.2"/>
<line x1="74.3" y1="335.4" x2="78.9" y2="335.4" stroke="#0a0a0a" stroke-width="1.15"/>
<line x1="76.6" y1="333.0" x2="76.6" y2="337.8" stroke="#0a0a0a" stroke-width="1.15"/>
<line x1="90.4" y1="335.4" x2="93.2" y2="335.4" stroke="#0a0a0a" stroke-width="1.2"/>
<line x1="103.7" y1="335.4" x2="108.3" y2="335.4" stroke="#0a0a0a" stroke-width="1.15"/>
<line x1="106.0" y1="333.0" x2="106.0" y2="337.8" stroke="#0a0a0a" stroke-width="1.15"/>
<line x1="119.0" y1="335.4" x2="121.8" y2="335.4" stroke="#0a0a0a" stroke-width="1.2"/>
<line x1="133.9" y1="335.4" x2="138.5" y2="335.4" stroke="#0a0a0a" stroke-width="1.15"/>
<line x1="136.2" y1="333.0" x2="136.2" y2="337.8" stroke="#0a0a0a" stroke-width="1.15"/>
<line x1="33.2" y1="344.0" x2="36.0" y2="344.0" stroke="#0a0a0a" stroke-width="1.2"/>
<line x1="47.2" y1="344.0" x2="50.0" y2="344.0" stroke="#0a0a0a" stroke-width="1.2"/>
<line x1="60.7" y1="344.0" x2="65.3" y2="344.0" stroke="#0a0a0a" stroke-width="1.15"/>
<line x1="63.0" y1="341.6" x2="63.0" y2="346.4" stroke="#0a0a0a" stroke-width="1.15"/>
<line x1="74.3" y1="344.0" x2="78.9" y2="344.0" stroke="#0a0a0a" stroke-width="1.15"/>
<line x1="76.6" y1="341.6" x2="76.6" y2="346.4" stroke="#0a0a0a" stroke-width="1.15"/>
<line x1="90.4" y1="344.0" x2="93.2" y2="344.0" stroke="#0a0a0a" stroke-width="1.2"/>
<line x1="104.6" y1="344.0" x2="107.4" y2="344.0" stroke="#0a0a0a" stroke-width="1.2"/>
<line x1="118.1" y1="344.0" x2="122.7" y2="344.0" stroke="#0a0a0a" stroke-width="1.15"/>
<line x1="120.4" y1="341.6" x2="120.4" y2="346.4" stroke="#0a0a0a" stroke-width="1.15"/>
<line x1="133.9" y1="344.0" x2="138.5" y2="344.0" stroke="#0a0a0a" stroke-width="1.15"/>
<line x1="136.2" y1="341.6" x2="136.2" y2="346.4" stroke="#0a0a0a" stroke-width="1.15"/>
<line x1="33.2" y1="352.6" x2="36.0" y2="352.6" stroke="#0a0a0a" stroke-width="1.2"/>
<line x1="47.2" y1="352.6" x2="50.0" y2="352.6" stroke="#0a0a0a" stroke-width="1.2"/>
<line x1="61.6" y1="352.6" x2="64.4" y2="352.6" stroke="#0a0a0a" stroke-width="1.2"/>
<line x1="75.2" y1="352.6" x2="78.0" y2="352.6" stroke="#0a0a0a" stroke-width="1.2"/>
<line x1="89.5" y1="352.6" x2="94.1" y2="352.6" stroke="#0a0a0a" stroke-width="1.15"/>
<line x1="91.8" y1="350.2" x2="91.8" y2="355.0" stroke="#0a0a0a" stroke-width="1.15"/>
<line x1="103.7" y1="352.6" x2="108.3" y2="352.6" stroke="#0a0a0a" stroke-width="1.15"/>
<line x1="106.0" y1="350.2" x2="106.0" y2="355.0" stroke="#0a0a0a" stroke-width="1.15"/>
<line x1="118.1" y1="352.6" x2="122.7" y2="352.6" stroke="#0a0a0a" stroke-width="1.15"/>
<line x1="120.4" y1="350.2" x2="120.4" y2="355.0" stroke="#0a0a0a" stroke-width="1.15"/>
<line x1="133.9" y1="352.6" x2="138.5" y2="352.6" stroke="#0a0a0a" stroke-width="1.15"/>
<line x1="136.2" y1="350.2" x2="136.2" y2="355.0" stroke="#0a0a0a" stroke-width="1.15"/>
<text x="143.8" y="337.1" font-size="6.2" text-anchor="start" font-weight="normal" fill="#000" stroke="#000" stroke-width="0.42" textLength="29.7" lengthAdjust="spacingAndGlyphs">Anti-Wnt5a</text>
<text x="143.8" y="345.4" font-size="6.2" text-anchor="start" font-weight="normal" fill="#000" stroke="#000" stroke-width="0.42" textLength="20.0" lengthAdjust="spacingAndGlyphs">rRANKL</text>
<text x="143.8" y="354.6" font-size="6.2" text-anchor="start" font-weight="normal" fill="#000" stroke="#000" stroke-width="0.42" textLength="25.7" lengthAdjust="spacingAndGlyphs">MT1 Cells</text>
<line x1="47.5" y1="255.1" x2="105.9" y2="255.1" stroke="#0a0a0a" stroke-width="1.1"/>
<line x1="48.1" y1="255.1" x2="48.1" y2="261.8" stroke="#0a0a0a" stroke-width="1.15"/>
<path d="M45.2,258.5 L48.1,262.4 L51.0,258.5" fill="none" stroke="#0a0a0a" stroke-width="1.15"/>
<line x1="105.3" y1="255.1" x2="105.3" y2="261.8" stroke="#0a0a0a" stroke-width="1.15"/>
<path d="M102.4,258.5 L105.3,262.4 L108.2,258.5" fill="none" stroke="#0a0a0a" stroke-width="1.15"/>
<line x1="76.0" y1="270.1" x2="134.8" y2="270.1" stroke="#222" stroke-width="1.0"/>
<line x1="76.6" y1="270.1" x2="76.6" y2="277.2" stroke="#0a0a0a" stroke-width="1.15"/>
<path d="M73.7,273.9 L76.6,277.8 L79.5,273.9" fill="none" stroke="#0a0a0a" stroke-width="1.15"/>
<line x1="134.2" y1="270.1" x2="134.2" y2="277.2" stroke="#0a0a0a" stroke-width="1.15"/>
<path d="M131.3,273.9 L134.2,277.8 L137.1,273.9" fill="none" stroke="#0a0a0a" stroke-width="1.15"/>
<circle cx="71.3" cy="251.1" r="1.5" fill="#0a0a0a"/>
<circle cx="76.2" cy="251.1" r="1.5" fill="#0a0a0a"/>
<circle cx="101.9" cy="267.5" r="1.45" fill="#0a0a0a"/>
<circle cx="106.7" cy="267.5" r="1.45" fill="#0a0a0a"/>
<circle cx="111.5" cy="267.5" r="1.45" fill="#0a0a0a"/>
<text x="232.7" y="239.8" font-size="7.2" text-anchor="start" font-weight="normal" fill="#000" stroke="#000" stroke-width="0.42" textLength="53.0" lengthAdjust="spacingAndGlyphs">RANKL Expression</text>
<rect x="201.5" y="263.3" width="9.1" height="65.3" fill="#bebebe" stroke="#0a0a0a" stroke-width="1.15"/>
<rect x="215.4" y="257.0" width="8.8" height="71.6" fill="#bebebe" stroke="#0a0a0a" stroke-width="1.15"/>
<line x1="219.8" y1="257.0" x2="219.8" y2="250.5" stroke="#0a0a0a" stroke-width="1.05"/>
<line x1="216.0" y1="250.5" x2="223.7" y2="250.5" stroke="#0a0a0a" stroke-width="1.05"/>
<rect x="229.8" y="263.3" width="8.9" height="65.3" fill="#bebebe" stroke="#0a0a0a" stroke-width="1.15"/>
<rect x="244.4" y="267.2" width="8.5" height="61.4" fill="#bebebe" stroke="#0a0a0a" stroke-width="1.15"/>
<line x1="248.7" y1="267.2" x2="248.7" y2="263.3" stroke="#0a0a0a" stroke-width="1.05"/>
<line x1="245.5" y1="263.3" x2="252.0" y2="263.3" stroke="#0a0a0a" stroke-width="1.05"/>
<rect x="258.2" y="263.3" width="8.8" height="65.3" fill="#7b7b7b" stroke="#0a0a0a" stroke-width="1.15"/>
<rect x="272.0" y="277.2" width="9.2" height="51.4" fill="#7b7b7b" stroke="#0a0a0a" stroke-width="1.15"/>
<line x1="276.6" y1="277.2" x2="276.6" y2="253.3" stroke="#0a0a0a" stroke-width="1.05"/>
<line x1="273.0" y1="253.3" x2="280.8" y2="253.3" stroke="#0a0a0a" stroke-width="1.05"/>
<rect x="287.0" y="263.3" width="9.2" height="65.3" fill="#7b7b7b" stroke="#0a0a0a" stroke-width="1.15"/>
<rect x="302.0" y="261.4" width="9.0" height="67.2" fill="#7b7b7b" stroke="#0a0a0a" stroke-width="1.15"/>
<line x1="306.5" y1="261.4" x2="306.5" y2="248.3" stroke="#0a0a0a" stroke-width="1.05"/>
<line x1="302.3" y1="248.3" x2="310.0" y2="248.3" stroke="#0a0a0a" stroke-width="1.05"/>
<path d="M194.8,263.0 V328.6 H312.0" fill="none" stroke="#0a0a0a" stroke-width="0.95"/>
<line x1="190.6" y1="263.3" x2="194.8" y2="263.3" stroke="#0a0a0a" stroke-width="0.9"/>
<text x="190.2" y="265.3" font-size="5.64" text-anchor="end" font-weight="normal" fill="#000" stroke="#000" stroke-width="0.42" textLength="9.6" lengthAdjust="spacingAndGlyphs">100</text>
<line x1="190.6" y1="296.0" x2="194.8" y2="296.0" stroke="#0a0a0a" stroke-width="0.9"/>
<text x="190.2" y="298.0" font-size="5.55" text-anchor="end" font-weight="normal" fill="#000" stroke="#000" stroke-width="0.42" textLength="6.3" lengthAdjust="spacingAndGlyphs">50</text>
<text transform="translate(177.6,323.4) rotate(-90)" font-size="5.8" font-weight="normal" fill="#000" stroke="#000" stroke-width="0.42" textLength="63.2" lengthAdjust="spacingAndGlyphs">Relative Fold Expression</text>
<line x1="205.3" y1="335.4" x2="208.1" y2="335.4" stroke="#0a0a0a" stroke-width="1.2"/>
<line x1="217.8" y1="335.4" x2="222.4" y2="335.4" stroke="#0a0a0a" stroke-width="1.15"/>
<line x1="220.1" y1="333.0" x2="220.1" y2="337.8" stroke="#0a0a0a" stroke-width="1.15"/>
<line x1="233.0" y1="335.4" x2="235.8" y2="335.4" stroke="#0a0a0a" stroke-width="1.2"/>
<line x1="246.0" y1="335.4" x2="250.6" y2="335.4" stroke="#0a0a0a" stroke-width="1.15"/>
<line x1="248.3" y1="333.0" x2="248.3" y2="337.8" stroke="#0a0a0a" stroke-width="1.15"/>
<line x1="261.6" y1="335.4" x2="264.4" y2="335.4" stroke="#0a0a0a" stroke-width="1.2"/>
<line x1="275.1" y1="335.4" x2="279.7" y2="335.4" stroke="#0a0a0a" stroke-width="1.15"/>
<line x1="277.4" y1="333.0" x2="277.4" y2="337.8" stroke="#0a0a0a" stroke-width="1.15"/>
<line x1="290.6" y1="335.4" x2="293.4" y2="335.4" stroke="#0a0a0a" stroke-width="1.2"/>
<line x1="305.4" y1="335.4" x2="310.0" y2="335.4" stroke="#0a0a0a" stroke-width="1.15"/>
<line x1="307.7" y1="333.0" x2="307.7" y2="337.8" stroke="#0a0a0a" stroke-width="1.15"/>
<line x1="205.3" y1="344.0" x2="208.1" y2="344.0" stroke="#0a0a0a" stroke-width="1.2"/>
<line x1="218.7" y1="344.0" x2="221.5" y2="344.0" stroke="#0a0a0a" stroke-width="1.2"/>
<line x1="232.1" y1="344.0" x2="236.7" y2="344.0" stroke="#0a0a0a" stroke-width="1.15"/>
<line x1="234.4" y1="341.6" x2="234.4" y2="346.4" stroke="#0a0a0a" stroke-width="1.15"/>
<line x1="246.0" y1="344.0" x2="250.6" y2="344.0" stroke="#0a0a0a" stroke-width="1.15"/>
<line x1="248.3" y1="341.6" x2="248.3" y2="346.4" stroke="#0a0a0a" stroke-width="1.15"/>
<line x1="261.6" y1="344.0" x2="264.4" y2="344.0" stroke="#0a0a0a" stroke-width="1.2"/>
<line x1="276.0" y1="344.0" x2="278.8" y2="344.0" stroke="#0a0a0a" stroke-width="1.2"/>
<line x1="289.7" y1="344.0" x2="294.3" y2="344.0" stroke="#0a0a0a" stroke-width="1.15"/>
<line x1="292.0" y1="341.6" x2="292.0" y2="346.4" stroke="#0a0a0a" stroke-width="1.15"/>
<line x1="305.4" y1="344.0" x2="310.0" y2="344.0" stroke="#0a0a0a" stroke-width="1.15"/>
<line x1="307.7" y1="341.6" x2="307.7" y2="346.4" stroke="#0a0a0a" stroke-width="1.15"/>
<line x1="205.3" y1="352.6" x2="208.1" y2="352.6" stroke="#0a0a0a" stroke-width="1.2"/>
<line x1="218.7" y1="352.6" x2="221.5" y2="352.6" stroke="#0a0a0a" stroke-width="1.2"/>
<line x1="233.0" y1="352.6" x2="235.8" y2="352.6" stroke="#0a0a0a" stroke-width="1.2"/>
<line x1="246.9" y1="352.6" x2="249.7" y2="352.6" stroke="#0a0a0a" stroke-width="1.2"/>
<line x1="260.7" y1="352.6" x2="265.3" y2="352.6" stroke="#0a0a0a" stroke-width="1.15"/>
<line x1="263.0" y1="350.2" x2="263.0" y2="355.0" stroke="#0a0a0a" stroke-width="1.15"/>
<line x1="275.1" y1="352.6" x2="279.7" y2="352.6" stroke="#0a0a0a" stroke-width="1.15"/>
<line x1="277.4" y1="350.2" x2="277.4" y2="355.0" stroke="#0a0a0a" stroke-width="1.15"/>
<line x1="289.7" y1="352.6" x2="294.3" y2="352.6" stroke="#0a0a0a" stroke-width="1.15"/>
<line x1="292.0" y1="350.2" x2="292.0" y2="355.0" stroke="#0a0a0a" stroke-width="1.15"/>
<line x1="305.4" y1="352.6" x2="310.0" y2="352.6" stroke="#0a0a0a" stroke-width="1.15"/>
<line x1="307.7" y1="350.2" x2="307.7" y2="355.0" stroke="#0a0a0a" stroke-width="1.15"/>
<text x="315.6" y="337.1" font-size="6.2" text-anchor="start" font-weight="normal" fill="#000" stroke="#000" stroke-width="0.42" textLength="30.0" lengthAdjust="spacingAndGlyphs">Anti-Wnt5a</text>
<text x="315.6" y="345.4" font-size="6.2" text-anchor="start" font-weight="normal" fill="#000" stroke="#000" stroke-width="0.42" textLength="20.0" lengthAdjust="spacingAndGlyphs">rRANKL</text>
<text x="315.6" y="354.6" font-size="6.2" text-anchor="start" font-weight="normal" fill="#000" stroke="#000" stroke-width="0.42" textLength="25.6" lengthAdjust="spacingAndGlyphs">MT1 Cells</text>
<text x="407.5" y="239.8" font-size="7.2" text-anchor="start" font-weight="normal" fill="#000" stroke="#000" stroke-width="0.42" textLength="47.5" lengthAdjust="spacingAndGlyphs">EBF2 Expression</text>
<rect x="376.3" y="295.6" width="8.7" height="33.0" fill="#bebebe" stroke="#0a0a0a" stroke-width="1.15"/>
<rect x="390.4" y="291.7" width="8.2" height="36.9" fill="#bebebe" stroke="#0a0a0a" stroke-width="1.15"/>
<line x1="394.5" y1="291.7" x2="394.5" y2="291.2" stroke="#0a0a0a" stroke-width="1.05"/>
<line x1="390.6" y1="291.2" x2="398.4" y2="291.2" stroke="#0a0a0a" stroke-width="1.05"/>
<rect x="404.2" y="295.6" width="8.7" height="33.0" fill="#bebebe" stroke="#0a0a0a" stroke-width="1.15"/>
<rect x="418.7" y="302.3" width="8.8" height="26.3" fill="#bebebe" stroke="#0a0a0a" stroke-width="1.15"/>
<line x1="423.1" y1="302.3" x2="423.1" y2="293.5" stroke="#0a0a0a" stroke-width="1.05"/>
<line x1="419.6" y1="293.5" x2="427.0" y2="293.5" stroke="#0a0a0a" stroke-width="1.05"/>
<rect x="433.0" y="295.6" width="8.7" height="33.0" fill="#7b7b7b" stroke="#0a0a0a" stroke-width="1.15"/>
<rect x="448.4" y="292.7" width="8.2" height="35.9" fill="#7b7b7b" stroke="#0a0a0a" stroke-width="1.15"/>
<line x1="452.5" y1="292.7" x2="452.5" y2="281.5" stroke="#0a0a0a" stroke-width="1.05"/>
<line x1="448.8" y1="281.5" x2="456.6" y2="281.5" stroke="#0a0a0a" stroke-width="1.05"/>
<rect x="461.7" y="295.6" width="8.7" height="33.0" fill="#7b7b7b" stroke="#0a0a0a" stroke-width="1.15"/>
<rect x="476.4" y="280.2" width="8.6" height="48.4" fill="#7b7b7b" stroke="#0a0a0a" stroke-width="1.15"/>
<line x1="480.7" y1="280.2" x2="480.7" y2="277.7" stroke="#0a0a0a" stroke-width="1.05"/>
<line x1="476.6" y1="277.7" x2="485.0" y2="277.7" stroke="#0a0a0a" stroke-width="1.05"/>
<path d="M369.6,263.0 V328.6 H486.3" fill="none" stroke="#0a0a0a" stroke-width="0.95"/>
<line x1="365.5" y1="263.3" x2="369.6" y2="263.3" stroke="#0a0a0a" stroke-width="0.9"/>
<text x="365.1" y="265.3" font-size="5.64" text-anchor="end" font-weight="normal" fill="#000" stroke="#000" stroke-width="0.42" textLength="9.6" lengthAdjust="spacingAndGlyphs">200</text>
<line x1="365.5" y1="296.0" x2="369.6" y2="296.0" stroke="#0a0a0a" stroke-width="0.9"/>
<text x="365.1" y="298.0" font-size="5.64" text-anchor="end" font-weight="normal" fill="#000" stroke="#000" stroke-width="0.42" textLength="9.6" lengthAdjust="spacingAndGlyphs">100</text>
<text transform="translate(352.3,322.7) rotate(-90)" font-size="5.8" font-weight="normal" fill="#000" stroke="#000" stroke-width="0.42" textLength="63.2" lengthAdjust="spacingAndGlyphs">Relative Fold Expression</text>
<line x1="369.6" y1="302.3" x2="488.3" y2="302.3" stroke="#000" stroke-width="0.95" stroke-dasharray="2.5 1.9"/>
<line x1="379.8" y1="335.4" x2="382.6" y2="335.4" stroke="#0a0a0a" stroke-width="1.2"/>
<line x1="392.3" y1="335.4" x2="396.9" y2="335.4" stroke="#0a0a0a" stroke-width="1.15"/>
<line x1="394.6" y1="333.0" x2="394.6" y2="337.8" stroke="#0a0a0a" stroke-width="1.15"/>
<line x1="407.6" y1="335.4" x2="410.4" y2="335.4" stroke="#0a0a0a" stroke-width="1.2"/>
<line x1="420.2" y1="335.4" x2="424.8" y2="335.4" stroke="#0a0a0a" stroke-width="1.15"/>
<line x1="422.5" y1="333.0" x2="422.5" y2="337.8" stroke="#0a0a0a" stroke-width="1.15"/>
<line x1="436.3" y1="335.4" x2="439.1" y2="335.4" stroke="#0a0a0a" stroke-width="1.2"/>
<line x1="450.0" y1="335.4" x2="454.6" y2="335.4" stroke="#0a0a0a" stroke-width="1.15"/>
<line x1="452.3" y1="333.0" x2="452.3" y2="337.8" stroke="#0a0a0a" stroke-width="1.15"/>
<line x1="465.2" y1="335.4" x2="468.0" y2="335.4" stroke="#0a0a0a" stroke-width="1.2"/>
<line x1="479.9" y1="335.4" x2="484.5" y2="335.4" stroke="#0a0a0a" stroke-width="1.15"/>
<line x1="482.2" y1="333.0" x2="482.2" y2="337.8" stroke="#0a0a0a" stroke-width="1.15"/>
<line x1="379.8" y1="344.0" x2="382.6" y2="344.0" stroke="#0a0a0a" stroke-width="1.2"/>
<line x1="393.2" y1="344.0" x2="396.0" y2="344.0" stroke="#0a0a0a" stroke-width="1.2"/>
<line x1="406.7" y1="344.0" x2="411.3" y2="344.0" stroke="#0a0a0a" stroke-width="1.15"/>
<line x1="409.0" y1="341.6" x2="409.0" y2="346.4" stroke="#0a0a0a" stroke-width="1.15"/>
<line x1="420.2" y1="344.0" x2="424.8" y2="344.0" stroke="#0a0a0a" stroke-width="1.15"/>
<line x1="422.5" y1="341.6" x2="422.5" y2="346.4" stroke="#0a0a0a" stroke-width="1.15"/>
<line x1="436.3" y1="344.0" x2="439.1" y2="344.0" stroke="#0a0a0a" stroke-width="1.2"/>
<line x1="450.9" y1="344.0" x2="453.7" y2="344.0" stroke="#0a0a0a" stroke-width="1.2"/>
<line x1="464.3" y1="344.0" x2="468.9" y2="344.0" stroke="#0a0a0a" stroke-width="1.15"/>
<line x1="466.6" y1="341.6" x2="466.6" y2="346.4" stroke="#0a0a0a" stroke-width="1.15"/>
<line x1="479.9" y1="344.0" x2="484.5" y2="344.0" stroke="#0a0a0a" stroke-width="1.15"/>
<line x1="482.2" y1="341.6" x2="482.2" y2="346.4" stroke="#0a0a0a" stroke-width="1.15"/>
<line x1="379.8" y1="352.6" x2="382.6" y2="352.6" stroke="#0a0a0a" stroke-width="1.2"/>
<line x1="393.2" y1="352.6" x2="396.0" y2="352.6" stroke="#0a0a0a" stroke-width="1.2"/>
<line x1="407.6" y1="352.6" x2="410.4" y2="352.6" stroke="#0a0a0a" stroke-width="1.2"/>
<line x1="421.1" y1="352.6" x2="423.9" y2="352.6" stroke="#0a0a0a" stroke-width="1.2"/>
<line x1="435.4" y1="352.6" x2="440.0" y2="352.6" stroke="#0a0a0a" stroke-width="1.15"/>
<line x1="437.7" y1="350.2" x2="437.7" y2="355.0" stroke="#0a0a0a" stroke-width="1.15"/>
<line x1="450.0" y1="352.6" x2="454.6" y2="352.6" stroke="#0a0a0a" stroke-width="1.15"/>
<line x1="452.3" y1="350.2" x2="452.3" y2="355.0" stroke="#0a0a0a" stroke-width="1.15"/>
<line x1="464.3" y1="352.6" x2="468.9" y2="352.6" stroke="#0a0a0a" stroke-width="1.15"/>
<line x1="466.6" y1="350.2" x2="466.6" y2="355.0" stroke="#0a0a0a" stroke-width="1.15"/>
<line x1="479.9" y1="352.6" x2="484.5" y2="352.6" stroke="#0a0a0a" stroke-width="1.15"/>
<line x1="482.2" y1="350.2" x2="482.2" y2="355.0" stroke="#0a0a0a" stroke-width="1.15"/>
<text x="490.0" y="337.1" font-size="6.2" text-anchor="start" font-weight="normal" fill="#000" stroke="#000" stroke-width="0.42" textLength="30.0" lengthAdjust="spacingAndGlyphs">Anti-Wnt5a</text>
<text x="490.0" y="345.4" font-size="6.2" text-anchor="start" font-weight="normal" fill="#000" stroke="#000" stroke-width="0.42" textLength="20.0" lengthAdjust="spacingAndGlyphs">rRANKL</text>
<text x="490.0" y="354.6" font-size="6.2" text-anchor="start" font-weight="normal" fill="#000" stroke="#000" stroke-width="0.42" textLength="25.7" lengthAdjust="spacingAndGlyphs">MT1 Cells</text>
<line x1="423.7" y1="265.8" x2="481.8" y2="265.8" stroke="#0a0a0a" stroke-width="1.1"/>
<line x1="424.3" y1="265.8" x2="424.3" y2="273.0" stroke="#0a0a0a" stroke-width="1.15"/>
<path d="M421.4,269.7 L424.3,273.6 L427.2,269.7" fill="none" stroke="#0a0a0a" stroke-width="1.15"/>
<line x1="481.2" y1="265.8" x2="481.2" y2="273.0" stroke="#0a0a0a" stroke-width="1.15"/>
<path d="M478.3,269.7 L481.2,273.6 L484.1,269.7" fill="none" stroke="#0a0a0a" stroke-width="1.15"/>
<circle cx="450.2" cy="262.4" r="1.5" fill="#0a0a0a"/>
<circle cx="455.1" cy="262.4" r="1.5" fill="#0a0a0a"/>
</svg>
</body></html>
